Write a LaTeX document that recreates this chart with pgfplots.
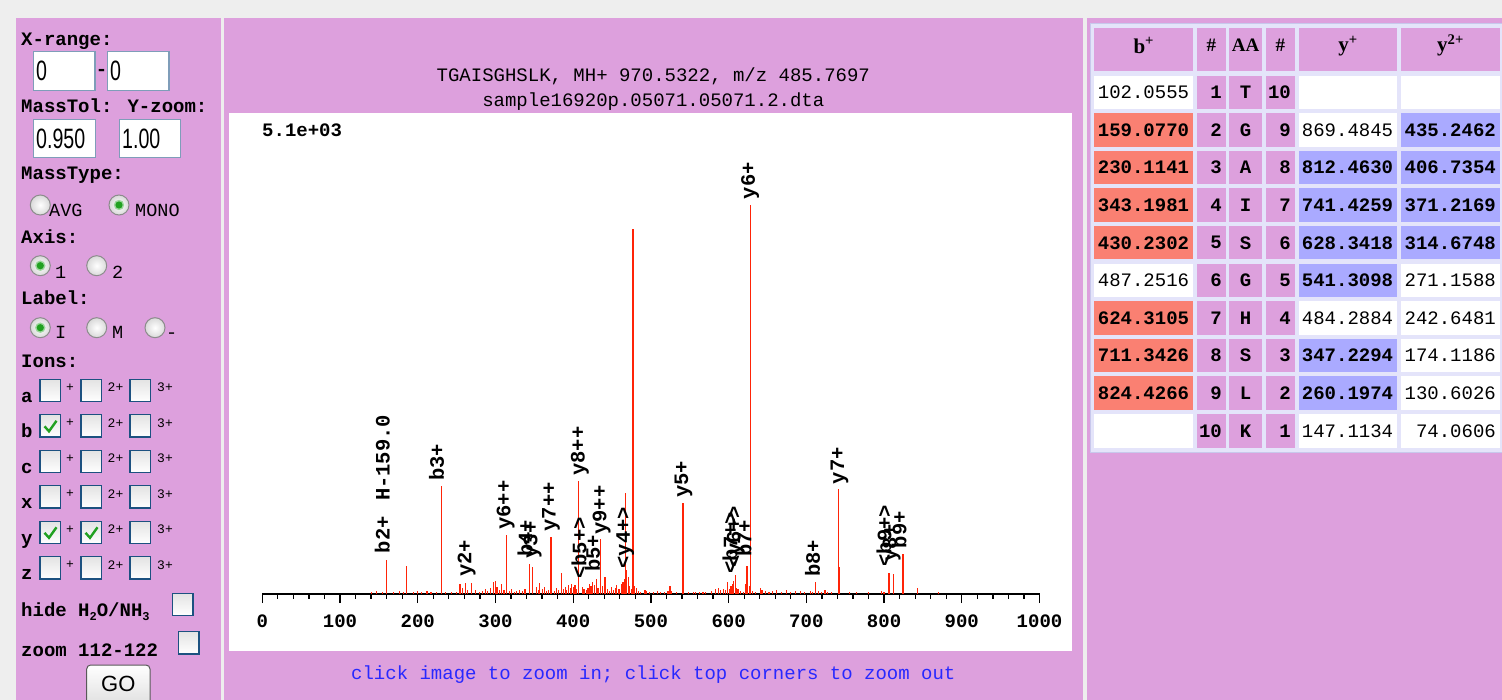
\documentclass[border=0pt]{standalone}
\usepackage{fontspec}
\setmainfont{Liberation Serif}
\newfontfamily\mono{Liberation Mono}
\newfontfamily\boxfont[FakeStretch=0.7]{Liberation Sans}
\newfontfamily\sans{Liberation Sans}
\usepackage{pgfplots}
\pgfplotsset{compat=1.18}
\usetikzlibrary{shadings}

\definecolor{plumc}{HTML}{DDA0DD}
\definecolor{bggray}{HTML}{EEEEEE}
\definecolor{salmonc}{HTML}{FA8072}
\definecolor{bluec}{HTML}{AAAAFF}
\definecolor{lav}{HTML}{E4E4FA}
\definecolor{lavline}{HTML}{C8C8EC}
\definecolor{peakred}{RGB}{255,36,8}
\definecolor{linkblue}{RGB}{40,40,255}
\definecolor{cbborder}{HTML}{1C5180}
\definecolor{tbborder}{HTML}{7F9DB9}
\definecolor{checkgreen}{HTML}{21A121}

\newcommand\lbf{\mono\bfseries\fontsize{19}{19}\selectfont}
\newcommand\lnf{\mono\fontsize{19}{19}\selectfont}
\newcommand\smf{\mono\fontsize{13}{13}\selectfont}
\newcommand\rlf{\mono\fontsize{18.5}{18.5}\selectfont}
\newcommand\tn{\mono\fontsize{19}{19}\selectfont}
\newcommand\tb{\mono\bfseries\fontsize{19}{19}\selectfont}
\newcommand\plab[3]{\node[rotate=90, anchor=west, inner sep=0pt, text height=0.6em, text depth=0pt, font=\mono\bfseries\fontsize{20.5}{20.5}\selectfont] at (axis cs:#1,#2) {#3};}

% checkbox: x, y(top), checked
\newcommand\cb[3]{%
  \draw[cbborder, line width=1.3pt, top color=gray!22, bottom color=white] (#1,-#2) rectangle ++(20.7,-22.3);
  \ifnum#3=1 \draw[checkgreen, line width=2.4pt] (#1+4.5,-#2-11.5) -- (#1+9,-#2-16.5) -- (#1+16.5,-#2-6); \fi}
% radio: cx, cy, selected
\newcommand\radio[3]{%
  \shade[inner color=white, outer color=gray!30] (#1,-#2) circle (10);
  \draw[gray!90, line width=1pt] (#1,-#2) circle (10);
  \ifnum#3=1 \fill[checkgreen!45] (#1,-#2) circle (5.2); \fill[checkgreen] (#1,-#2) circle (3.6); \fi}
% table cells
\newcommand\rcell[5]{%
  \pgfmathsetmacro\yt{75.7+(#3-1)*37.6}%
  \fill[#4] (#1,-\yt) rectangle (#2,-\yt-33.4);
  \node[anchor=east, inner sep=0pt] at (#2-4,-\yt-16.7) {#5};}
\newcommand\ccell[5]{%
  \pgfmathsetmacro\yt{75.7+(#3-1)*37.6}%
  \fill[#4] (#1,-\yt) rectangle (#2,-\yt-33.4);
  \node[anchor=center, inner sep=0pt] at ({(#1+#2)/2},-\yt-16.7) {#5};}
\newcommand\trow[8]{%
  \rcell{1094.3}{1193.3}{#1}{#2}{#3}
  \rcell{1196.7}{1226}{#1}{plumc}{\tb #4}
  \ccell{1229.3}{1261.7}{#1}{plumc}{\tb #5}
  \rcell{1265.7}{1295}{#1}{plumc}{\tb #6}
  \rcell{1298.7}{1397.3}{#1}{#7}{#8}}
\newcommand\ytwo[3]{\rcell{1401}{1500}{#1}{#2}{#3}}

\begin{document}
\begin{tikzpicture}[x=1pt,y=1pt]
\useasboundingbox (0,0) rectangle (1502,-700);
\clip (0,0) rectangle (1502,-700);
\fill[bggray] (0,0) rectangle (1502,-700);
\fill[plumc] (15.5,-18.5) rectangle (220.7,-700);
\fill[plumc] (223.5,-18.5) rectangle (1083,-700);
\fill[plumc] (1087,-18.5) rectangle (1502,-700);

% ---------------- left panel ----------------
\node[anchor=base west, inner sep=0pt, font=\lbf] at (21,-45.7) {X-range:};
\draw[tbborder, line width=1.2pt, fill=white] (33.3,-51.7) rectangle (95,-90.7);
\draw[tbborder, line width=1.2pt, fill=white] (107.3,-51.7) rectangle (169,-90.7);
\node[anchor=west, inner sep=0pt, font=\boxfont\fontsize{28}{28}\selectfont] at (36,-71.2) {0};
\node[anchor=west, inner sep=0pt, font=\boxfont\fontsize{28}{28}\selectfont] at (110,-71.2) {0};
\node[anchor=center, inner sep=0pt, font=\lbf] at (101.5,-72) {-};
\node[anchor=base west, inner sep=0pt, font=\lbf] at (21,-112.7) {MassTol: Y-zoom:};
\draw[tbborder, line width=1.2pt, fill=white] (33.3,-119.3) rectangle (95.7,-157.3);
\draw[tbborder, line width=1.2pt, fill=white] (119.3,-119.3) rectangle (180.7,-157.3);
\node[anchor=west, inner sep=0pt, font=\boxfont\fontsize{28}{28}\selectfont] at (36,-138.8) {0.950};
\node[anchor=west, inner sep=0pt, font=\boxfont\fontsize{28}{28}\selectfont] at (122,-138.8) {1.00};
\node[anchor=base west, inner sep=0pt, font=\lbf] at (21,-180) {MassType:};
\radio{40.3}{205}{0}
\radio{119}{205}{1}
\node[anchor=base west, inner sep=0pt, font=\rlf] at (49,-216.7) {AVG};
\node[anchor=base west, inner sep=0pt, font=\rlf] at (135,-216.7) {MONO};
\node[anchor=base west, inner sep=0pt, font=\lbf] at (21,-244) {Axis:};
\radio{40.3}{265.7}{1}
\radio{96.7}{265.7}{0}
\node[anchor=base west, inner sep=0pt, font=\rlf] at (55,-278.3) {1};
\node[anchor=base west, inner sep=0pt, font=\rlf] at (112,-278.3) {2};
\node[anchor=base west, inner sep=0pt, font=\lbf] at (21,-305) {Label:};
\radio{40.3}{327.7}{1}
\radio{96.7}{327.7}{0}
\radio{155}{327.7}{0}
\node[anchor=base west, inner sep=0pt, font=\rlf] at (55,-338.3) {I};
\node[anchor=base west, inner sep=0pt, font=\rlf] at (112,-338.3) {M};
\node[anchor=base west, inner sep=0pt, font=\rlf] at (166,-338.3) {-};
\node[anchor=base west, inner sep=0pt, font=\lbf] at (21,-367.3) {Ions:};
% ion rows
\foreach \lt/\ty/\ca/\cbb in {a/379.3/0/0, b/414.8/1/0, c/450.3/0/0, x/485.8/0/0, y/521.3/1/1, z/556.8/0/0}{
  \node[anchor=base west, inner sep=0pt, font=\lbf] at (21,-\ty-23) {\lt};
  \cb{40}{\ty}{\ca}
  \cb{81}{\ty}{\cbb}
  \cb{130}{\ty}{0}
  \node[anchor=center, inner sep=0pt, font=\smf] at (70,-\ty-8) {+};
  \node[anchor=center, inner sep=0pt, font=\smf] at (115.5,-\ty-8) {2+};
  \node[anchor=center, inner sep=0pt, font=\smf] at (165,-\ty-8) {3+};
}
\node[anchor=base west, inner sep=0pt, font=\lbf] at (21,-616.7) {hide H\raisebox{-4pt}{\fontsize{12}{12}\selectfont 2}O/NH\raisebox{-4pt}{\fontsize{12}{12}\selectfont 3}};
\cb{172.3}{593.3}{0}
\node[anchor=base west, inner sep=0pt, font=\lbf] at (21,-656) {zoom 112-122};
\cb{178.3}{631.7}{0}
\draw[gray!70!black, line width=1pt, rounded corners=4pt, top color=white, bottom color=gray!25] (86.7,-665) rectangle (150,-706);
\node[anchor=center, inner sep=0pt, font=\sans\fontsize{22}{22}\selectfont] at (118.3,-684) {GO};

% ---------------- middle panel ----------------
\fill[white] (229,-113) rectangle (1072,-651);
\node[anchor=center, inner sep=0pt, font=\lnf] at (653.3,-76) {TGAISGHSLK, MH+ 970.5322, m/z 485.7697};
\node[anchor=center, inner sep=0pt, font=\lnf] at (653.3,-101.5) {sample16920p.05071.05071.2.dta};
\node[anchor=west, inner sep=0pt, font=\lbf] at (262,-130) {5.1e+03};
\node[anchor=center, inner sep=0pt, font=\lnf, text=linkblue] at (653.3,-675) {click image to zoom in; click top corners to zoom out};

\begin{axis}[
  at={(262.3pt,-594pt)}, anchor=south west,
  width=777.2pt, height=481pt, scale only axis,
  xmin=0, xmax=1000, ymin=0, ymax=6313,
  axis x line=bottom, axis y line=none,
  axis line style={-, line width=1.3pt, black},
  xtick={0,100,200,300,400,500,600,700,800,900,1000},
  xticklabels={0,100,200,300,400,500,600,700,800,900,1000},
  ytick=\empty,
  minor x tick num=4,
  tick align=outside,
  major tick length=9pt, minor tick length=4.5pt,
  every tick/.style={black, line width=1.3pt},
  xticklabel style={font=\lbf, inner sep=0pt, anchor=north, yshift=-11.5pt},
  clip=false,
]
\addplot[ycomb, peakred, line width=1.15pt, mark=none] coordinates {
(140.8,30) (147.2,43) (155,26) (160.1,451) (168.6,26) (177,39) (182,20) (185,374) (195,26) (200,39) (205,26) (212,33) (217,20) (224,26) (230.1,1417) (236,26) (243,20) (250,26) (254.4,131) (258,79) (260.9,144) (264,52) (269.5,144) (273.8,52) (279,26) (283,39) (286.7,66) (290,39) (294,79) (297.3,157) (299.5,171) (302,92) (305,52) (308,131) (311,52) (314.7,774) (318,39) (320.9,66) (324,26) (327,39) (331,52) (335,39) (338,66) (343.4,400) (347.3,354) (353,92) (355,52) (357,144) (360,66) (363.5,92) (366,39) (368,52) (371.4,748) (376,39) (378.6,79) (381,52) (384.5,282) (387,66) (389.6,92) (391,52) (393.9,118) (396,79) (398.2,131) (400,92) (402.4,118) (404,66) (407.2,1483) (411.6,92) (414,66) (417,52) (419,79) (421,131) (423,105) (425.3,157) (427,118) (429.6,197) (432,79) (435.2,722) (438,105) (441,223) (444,66) (447,39) (449.6,92) (452,52) (454,79) (456,118) (459,66) (462.5,131) (464,157) (465.5,197) (467,1332) (469,315) (471,223) (473,105) (475,66) (477,4789) (479,105) (481.7,79) (484,39) (487,26) (492.4,52) (494.7,39) (498,26) (503,26) (508,39) (512,26) (518,26) (522,39) (524.6,105) (527,39) (533,26) (541.3,1194) (548,26) (555,26) (557,26) (563,26) (567,26) (570,26) (578,39) (583,66) (586.9,79) (590,52) (593,66) (595.5,52) (598.5,157) (601,66) (603,105) (604.5,131) (606.3,171) (608.4,249) (610.5,79) (612,66) (615,39) (619,26) (622,131) (623.6,374) (626.9,105) (628.4,5100) (631,39) (635,26) (641.4,79) (643,52) (647,39) (652,26) (656,39) (662,52) (668,26) (675,52) (680,26) (686,39) (692,39) (698,26) (705,39) (708,26) (711.3,164) (716,39) (720,26) (724,52) (727,26) (732,26) (741.4,1372) (742.4,354) (755,26) (765,20) (780,26) (797,39) (800,26) (806.4,282) (812.6,262) (824.4,525) (825.4,118) (843,79) (870,26)
};
\plab{160.1}{532}{b2+}
\plab{160.1}{1218}{H-159.0}
\plab{229.6}{1483}{b3+}
\plab{265.1}{223}{y2+}
\plab{315.3}{840}{y6++}
\plab{343.6}{486}{b4+}
\plab{350}{465}{y3+}
\plab{373.7}{819}{y7++}
\plab{411}{1549}{y8++}
\plab{413.1}{199}{<b5+>}
\plab{430.4}{289}{b5+}
\plab{438.9}{774}{y9++}
\plab{469}{332}{<y4+>}
\plab{544}{1261}{y5+}
\plab{629.9}{5179}{y6+}
\plab{607.5}{266}{<b7+>}
\plab{611.6}{341}{<y6+>}
\plab{625.5}{486}{b7+}
\plab{713.5}{223}{b8+}
\plab{744.8}{1438}{y7+}
\plab{805.7}{358}{<b9+>}
\plab{812.1}{424}{y8+}
\plab{825}{600}{b9+}
\end{axis}

% ---------------- right panel: table ----------------
\fill[lav] (1090.5,-23.5) rectangle (1504,-452);
\draw[lavline, line width=1pt] (1090.5,-23.5) rectangle (1504,-452);
\fill[plumc] (1094.3,-28.3) rectangle (1193.3,-71);
\fill[plumc] (1196.7,-28.3) rectangle (1226,-71);
\fill[plumc] (1229.3,-28.3) rectangle (1261.7,-71);
\fill[plumc] (1265.7,-28.3) rectangle (1295,-71);
\fill[plumc] (1298.7,-28.3) rectangle (1397.3,-71);
\fill[plumc] (1401,-28.3) rectangle (1500,-71);
\node[anchor=base, inner sep=0pt, font=\bfseries\fontsize{21}{21}\selectfont] at (1143.8,-53.5) {b\textsuperscript{+}};
\node[anchor=base, inner sep=0pt, font=\bfseries\fontsize{19}{19}\selectfont] at (1211.3,-52) {\#};
\node[anchor=base, inner sep=0pt, font=\bfseries\fontsize{19}{19}\selectfont] at (1245.5,-52) {AA};
\node[anchor=base, inner sep=0pt, font=\bfseries\fontsize{19}{19}\selectfont] at (1280.3,-52) {\#};
\node[anchor=base, inner sep=0pt, font=\bfseries\fontsize{21}{21}\selectfont] at (1348,-52) {y\textsuperscript{+}};
\node[anchor=base, inner sep=0pt, font=\bfseries\fontsize{21}{21}\selectfont] at (1450.5,-52) {y\textsuperscript{2+}};
\trow{1}{white}{\tn 102.0555}{1}{T}{10}{white}{}
\ytwo{1}{white}{}
\trow{2}{salmonc}{\tb 159.0770}{2}{G}{9}{white}{\tn 869.4845}
\ytwo{2}{bluec}{\tb 435.2462}
\trow{3}{salmonc}{\tb 230.1141}{3}{A}{8}{bluec}{\tb 812.4630}
\ytwo{3}{bluec}{\tb 406.7354}
\trow{4}{salmonc}{\tb 343.1981}{4}{I}{7}{bluec}{\tb 741.4259}
\ytwo{4}{bluec}{\tb 371.2169}
\trow{5}{salmonc}{\tb 430.2302}{5}{S}{6}{bluec}{\tb 628.3418}
\ytwo{5}{bluec}{\tb 314.6748}
\trow{6}{white}{\tn 487.2516}{6}{G}{5}{bluec}{\tb 541.3098}
\ytwo{6}{white}{\tn 271.1588}
\trow{7}{salmonc}{\tb 624.3105}{7}{H}{4}{white}{\tn 484.2884}
\ytwo{7}{white}{\tn 242.6481}
\trow{8}{salmonc}{\tb 711.3426}{8}{S}{3}{bluec}{\tb 347.2294}
\ytwo{8}{white}{\tn 174.1186}
\trow{9}{salmonc}{\tb 824.4266}{9}{L}{2}{bluec}{\tb 260.1974}
\ytwo{9}{white}{\tn 130.6026}
\trow{10}{white}{}{10}{K}{1}{white}{\tn 147.1134}
\ytwo{10}{white}{\tn 74.0606}
\end{tikzpicture}
\end{document}
